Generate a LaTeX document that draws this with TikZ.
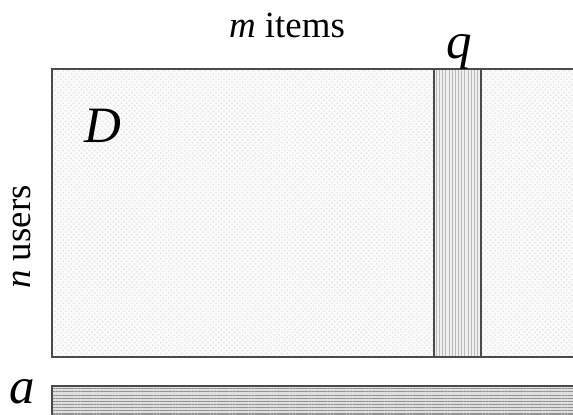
\documentclass[tikz,border=0pt]{standalone}
\usepackage{fontspec}
\setmainfont{Liberation Serif}
\usepackage{tikz}
\usetikzlibrary{patterns, patterns.meta}
\definecolor{framegray}{HTML}{4A4A4A}
\tikzset{
  matfill/.style={preaction={fill=gray!4}, pattern=crosshatch dots,
    pattern color=gray!22, draw=framegray, line width=0.9pt},
  colfill/.style={preaction={fill=gray!12},
    pattern={Lines[angle=90, distance=1.8pt, line width=0.5pt]},
    pattern color=gray!55, draw=framegray, line width=0.9pt},
  rowfill/.style={preaction={fill=gray!25},
    pattern={Lines[angle=0, distance=1.8pt, line width=0.6pt]},
    pattern color=gray!85, draw=framegray, line width=0.9pt},
  lbl/.style={font=\fontsize{21}{24}\selectfont, inner sep=0pt},
  sym/.style={font=\fontsize{29}{32}\selectfont\itshape, inner sep=0pt},
}
\begin{document}
\begin{tikzpicture}[x=0.02cm, y=-0.02cm]
\useasboundingbox (0,0) rectangle (573,414);
\clip (0,0) rectangle (573,414);
% user-item matrix
\path[matfill] (52,69) rectangle (600,357);
\path[colfill] (434,69) rectangle (481,357);
% query row
\path[rowfill] (52,386) rectangle (600,440);
% labels
\node[lbl] (items) at (287,25) {\textit{m} items};
\node[lbl, rotate=90] (users) at (22,237) {\textit{n} users};
\node[sym] (Dlbl) at (103,126) {D};
\node[sym] (qlbl) at (459,52) {q};
\node[sym] (albl) at (22,392) {a};
\end{tikzpicture}
\end{document}
